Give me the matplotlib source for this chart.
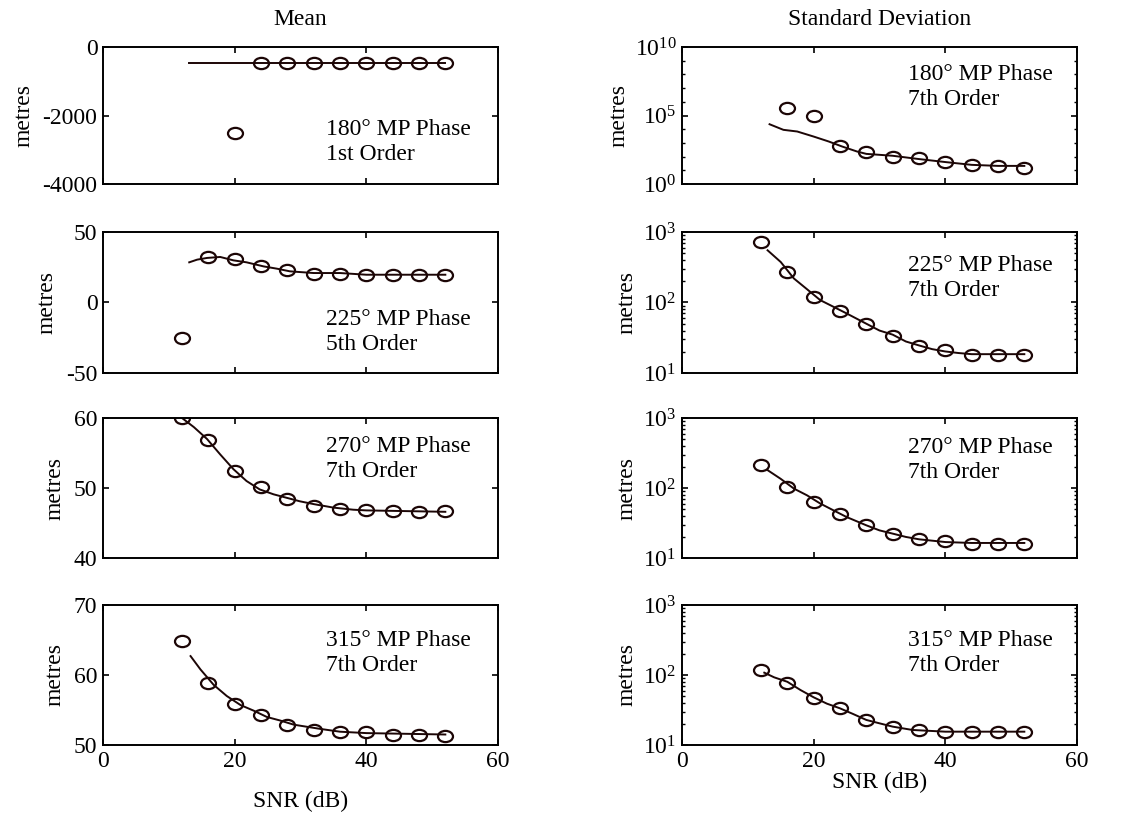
import numpy as np
import matplotlib
matplotlib.use('Agg')
import matplotlib.pyplot as plt
from matplotlib.markers import MarkerStyle
from matplotlib.transforms import Affine2D
from matplotlib.ticker import NullFormatter, LogLocator, FixedLocator

plt.rcParams['font.family'] = ['Liberation Serif', 'DejaVu Serif']
plt.rcParams['mathtext.fontset'] = 'custom'
plt.rcParams['mathtext.rm'] = 'Liberation Serif'
plt.rcParams['mathtext.it'] = 'Liberation Serif:italic'
plt.rcParams['font.size'] = 17
plt.rcParams['axes.unicode_minus'] = False

INK = '#1c0606'
# slightly flattened open circle, as in the original print
CIRC = MarkerStyle('o', transform=Affine2D().scale(1.2, 0.9))

# SNR (dB) grid of the simulation points
snr = [12, 16, 20, 24, 28, 32, 36, 40, 44, 48, 52]

# --- Mean column: circles (simulated) and fitted line ---
mean180_x = [20, 24, 28, 32, 36, 40, 44, 48, 52]
mean180_y = [-2500, -460, -460, -460, -460, -460, -460, -460, -460]
mean180_fx = [13.1, 20, 30, 40, 52]
mean180_fy = [-460, -460, -460, -460, -460]

mean225_x = snr
mean225_y = [-25, 32.3, 31.1, 25.6, 22.8, 20.4, 20.4, 19.3, 19.3, 19.3, 19.3]
mean225_fx = [13.1, 14.3, 15.8, 17.8, 19.8, 21.8, 24.4, 26.4, 28.4, 32, 36, 40, 52]
mean225_fy = [28.5, 30.4, 31.6, 32.3, 29.9, 28.5, 25.6, 24.0, 22.1, 20.9, 20.9, 19.7, 19.7]

mean270_x = snr
mean270_y = [60.0, 56.85, 52.4, 50.1, 48.5, 47.5, 47.05, 46.8, 46.7, 46.6, 46.7]
mean270_fx = [12, 13.8, 15.8, 17.8, 19.8, 21.8, 23.8, 25.9, 27.9, 29.9, 32, 35, 38, 40, 52]
mean270_fy = [60.0, 58.7, 57.0, 54.8, 52.7, 51.0, 49.8, 49.1, 48.6, 48.1, 47.7, 47.2, 46.9, 46.8, 46.6]

mean315_x = snr
mean315_y = [64.9, 58.8, 55.9, 54.3, 52.9, 52.1, 51.9, 51.8, 51.5, 51.5, 51.3]
mean315_fx = [13.3, 14.8, 16.8, 18.8, 20.9, 22.9, 24.9, 26.9, 29, 31, 33, 36, 40, 52]
mean315_fy = [62.7, 60.8, 58.6, 57.0, 55.7, 54.9, 54.0, 53.5, 52.9, 52.6, 52.3, 51.9, 51.7, 51.5]

# --- Standard deviation column ---
std180_x = [16, 20, 24, 28, 32, 36, 40, 44, 48, 52]
std180_y = [3.7e5, 9e4, 550, 200, 91, 73, 40, 23, 19, 14.5]
std180_fx = [13.3, 15.4, 17.5, 20, 22.3, 24.3, 26.6, 28, 32, 36, 40, 44, 48, 52]
std180_fy = [2.3e4, 9e3, 6.8e3, 2.9e3, 1.26e3, 550, 234, 158, 115, 66, 40, 25, 21, 21]

std225_x = snr
std225_y = [720, 272, 120, 76, 50, 33, 23.8, 20.9, 18.1, 17.8, 17.8]
std225_fx = [13, 15, 17, 19, 21, 23, 25, 28, 30, 32, 34, 36, 38, 40, 42, 44, 52]
std225_fy = [550, 375, 219, 154, 108, 87, 70, 50, 40, 35, 28, 24.6, 21.8, 20.2, 19.2, 18.5, 18.5]

std270_x = snr
std270_y = [211, 103, 63, 43, 29.3, 22.3, 18.5, 17.5, 16, 16, 16]
std270_fx = [13, 15, 17, 19, 21, 23, 25, 28, 30, 32, 34, 36, 40, 44, 52]
std270_fy = [180, 135, 98, 78.5, 60, 48, 38.5, 29.3, 24.8, 22.3, 20, 18.5, 16.9, 16.4, 16.4]

std315_x = snr
std315_y = [118, 76, 46.4, 33.4, 22.8, 18.3, 16.4, 15.5, 15.5, 15.5, 15.5]
std315_fx = [12.5, 14, 16, 18, 20, 22, 24, 26, 28, 30, 32, 35, 40, 52]
std315_fy = [108, 92.6, 80, 61, 48, 39, 33.4, 27.7, 22.8, 20.4, 18.3, 16.4, 15.5, 15.5]

mean_labels = ['180\u00b0 MP Phase\n1st Order', '225\u00b0 MP Phase\n5th Order',
               '270\u00b0 MP Phase\n7th Order', '315\u00b0 MP Phase\n7th Order']
std_labels = ['180\u00b0 MP Phase\n7th Order', '225\u00b0 MP Phase\n7th Order',
              '270\u00b0 MP Phase\n7th Order', '315\u00b0 MP Phase\n7th Order']

mean_panels = [
    (mean180_x, mean180_y, mean180_fx, mean180_fy, (-4000, 0), [-4000, -2000, 0]),
    (mean225_x, mean225_y, mean225_fx, mean225_fy, (-50, 50), [-50, 0, 50]),
    (mean270_x, mean270_y, mean270_fx, mean270_fy, (40, 60), [40, 50, 60]),
    (mean315_x, mean315_y, mean315_fx, mean315_fy, (50, 70), [50, 60, 70]),
]
std_panels = [
    (std180_x, std180_y, std180_fx, std180_fy, (1, 1e10), [1, 1e5, 1e10]),
    (std225_x, std225_y, std225_fx, std225_fy, (10, 1e3), [10, 100, 1e3]),
    (std270_x, std270_y, std270_fx, std270_fy, (10, 1e3), [10, 100, 1e3]),
    (std315_x, std315_y, std315_fx, std315_fy, (10, 1e3), [10, 100, 1e3]),
]

# text block centres (axes fraction)
mean_text_y = [0.305, 0.29, 0.71, 0.66]
std_text_y = [0.705, 0.675, 0.70, 0.66]

W, H = 1139, 816
fig = plt.figure(figsize=(W / 100, H / 100), dpi=100)

rows = [(47, 184), (232, 373), (418, 558), (605, 745)]
cols = [(103, 498), (682, 1077)]


def style(ax):
    ax.tick_params(direction='in', which='both', top=True, right=True,
                   labelsize=17, pad=4, colors='black')
    ax.tick_params(which='major', length=4, width=1.2)
    ax.tick_params(which='minor', length=2.5, width=1.0)
    for s in ax.spines.values():
        s.set_linewidth(1.4)
    ax.set_xlim(0, 60)
    ax.set_xticks([0, 20, 40, 60])


for i, (top, bot) in enumerate(rows):
    # Mean column
    l, r = cols[0]
    ax = fig.add_axes([l / W, 1 - bot / H, (r - l) / W, (bot - top) / H])
    cx, cy, fx, fy, ylim, yt = mean_panels[i]
    ax.plot(fx, fy, '-', color=INK, lw=1.4)
    ax.plot(cx, cy, ls='none', marker=CIRC, ms=9, mfc='none', mec=INK, mew=1.6)
    ax.set_ylim(*ylim)
    ax.set_yticks(yt)
    style(ax)
    ax.set_ylabel('metres', labelpad=6)
    ax.text(0.565, mean_text_y[i], mean_labels[i], transform=ax.transAxes,
            ha='left', va='center', fontsize=17, linespacing=1.25)
    if i == 0:
        ax.set_title('Mean', fontsize=17, pad=16)
    if i < 3:
        ax.set_xticklabels([])
    else:
        ax.set_xlabel('SNR (dB)', labelpad=14)

    # Standard deviation column
    l, r = cols[1]
    ax = fig.add_axes([l / W, 1 - bot / H, (r - l) / W, (bot - top) / H])
    cx, cy, fx, fy, ylim, yt = std_panels[i]
    ax.plot(fx, fy, '-', color=INK, lw=1.4)
    ax.plot(cx, cy, ls='none', marker=CIRC, ms=9, mfc='none', mec=INK, mew=1.6)
    ax.set_yscale('log')
    ax.set_ylim(*ylim)
    ax.yaxis.set_major_locator(FixedLocator(yt))
    if i == 0:
        ax.yaxis.set_minor_locator(FixedLocator([10.0 ** k for k in range(1, 10)]))
    else:
        ax.yaxis.set_minor_locator(LogLocator(base=10, subs=np.arange(2, 10)))
    ax.yaxis.set_minor_formatter(NullFormatter())
    style(ax)
    ax.set_ylabel('metres', labelpad=4)
    ax.text(0.572, std_text_y[i], std_labels[i], transform=ax.transAxes,
            ha='left', va='center', fontsize=17, linespacing=1.25)
    if i == 0:
        ax.set_title('Standard Deviation', fontsize=17, pad=16)
    if i < 3:
        ax.set_xticklabels([])
    else:
        ax.set_xlabel('SNR (dB)', labelpad=0)

fig.savefig('out.png', dpi=100)
